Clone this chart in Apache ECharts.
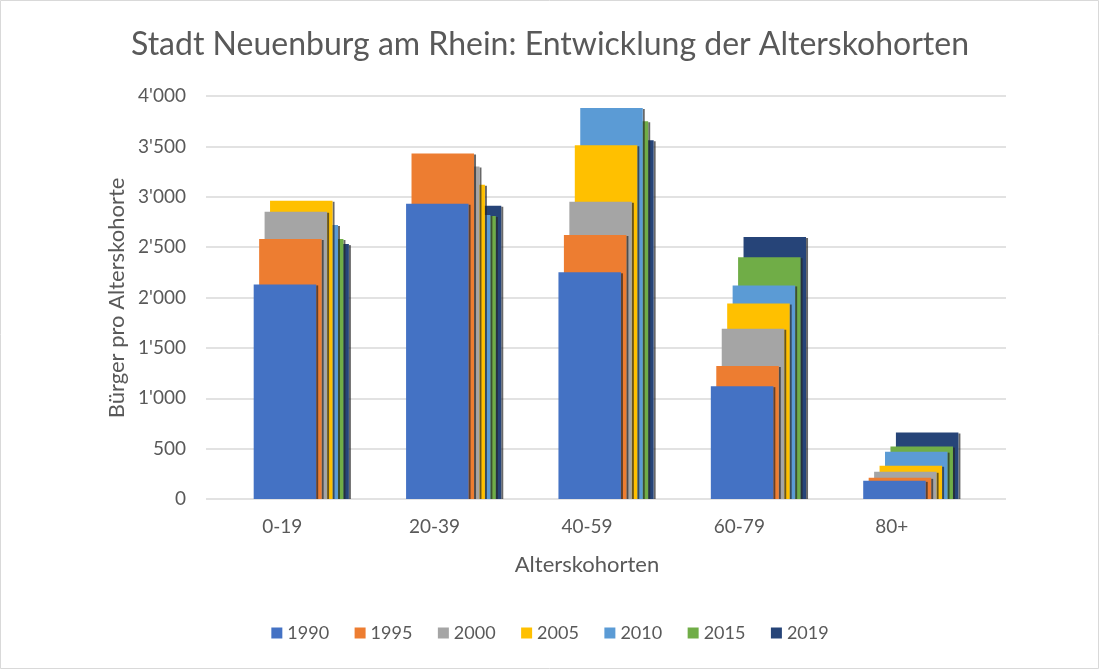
<!DOCTYPE html>
<html>
<head>
<meta charset="utf-8">
<script src="https://cdn.jsdelivr.net/npm/echarts@6/dist/echarts.min.js"></script>
<style>
html,body{margin:0;padding:0;background:#fff;}
#chart{width:1100px;height:670px;}
</style>
</head>
<body>
<div id="chart"></div>
<script>
var categories = ['0-19', '20-39', '40-59', '60-79', '80+'];
var years = ['1990', '1995', '2000', '2005', '2010', '2015', '2019'];
var v1990 = [2130, 2930, 2250, 1120, 180];
var v1995 = [2580, 3430, 2620, 1320, 210];
var v2000 = [2850, 3300, 2950, 1690, 270];
var v2005 = [2960, 3120, 3510, 1940, 330];
var v2010 = [2720, 2820, 3880, 2120, 470];
var v2015 = [2580, 2810, 3750, 2400, 520];
var v2019 = [2530, 2910, 3560, 2600, 660];
var yTicks = [0, 500, 1000, 1500, 2000, 2500, 3000, 3500, 4000];

var seriesValues = [v1990, v1995, v2000, v2005, v2010, v2015, v2019];
var colors = ['#4472C4', '#ED7D31', '#A5A5A5', '#FFC000', '#5B9BD5', '#70AD47', '#264478'];
var textColor = '#595959';
var font = 'Lato';

function fmt(v) {
  if (v >= 1000) {
    var r = String(v % 1000);
    while (r.length < 3) r = '0' + r;
    return Math.floor(v / 1000) + "'" + r;
  }
  return String(v);
}

var chart = echarts.init(document.getElementById('chart'));

var series = years.map(function (y, j) {
  var data = seriesValues[j].map(function (v, i) { return [i + 0.5, v]; });
  return {
    name: y,
    type: 'custom',
    z: 20 - j,
    itemStyle: { color: colors[j] },
    data: data,
    renderItem: function (params, api) {
      var top = api.coord([api.value(0), api.value(1)]);
      var base = api.coord([api.value(0), 0]);
      var left = top[0] - 28.5 + 5.45 * j;
      var w = 62.5;
      return {
        type: 'group',
        children: [
          {
            type: 'rect',
            shape: { x: left + w, y: top[1] + 1, width: 2, height: base[1] - top[1] - 1 },
            style: { fill: 'rgba(40,40,40,0.7)' }
          },
          {
            type: 'rect',
            shape: { x: left, y: top[1], width: w, height: base[1] - top[1] },
            style: { fill: colors[j] }
          }
        ]
      };
    }
  };
});

var option = {
  backgroundColor: '#fff',
  animation: false,
  title: {
    text: 'Stadt Neuenburg am Rhein: Entwicklung der Alterskohorten',
    left: 'center',
    top: 24,
    textStyle: { fontFamily: font, fontSize: 32, fontWeight: 'normal', color: textColor }
  },
  legend: {
    data: years,
    bottom: 23,
    left: 'center',
    icon: 'rect',
    itemWidth: 11,
    itemHeight: 11,
    itemGap: 25.5,
    textStyle: { fontFamily: font, fontSize: 18, color: textColor }
  },
  grid: { left: 206, right: 94, top: 96, bottom: 171 },
  xAxis: {
    type: 'value',
    min: 0,
    max: 5.25,
    interval: 0.5,
    axisLine: { show: false },
    axisTick: { show: false },
    splitLine: { show: false },
    axisLabel: {
      margin: 18,
      fontFamily: font,
      fontSize: 19,
      color: textColor,
      showMaxLabel: false,
      formatter: function (v) {
        var k = v - 0.5;
        if (Math.abs(k - Math.round(k)) < 1e-6 && Math.round(k) >= 0 && Math.round(k) < categories.length) {
          return categories[Math.round(k)];
        }
        return '';
      }
    }
  },
  yAxis: {
    type: 'value',
    min: yTicks[0],
    max: yTicks[yTicks.length - 1],
    interval: yTicks[1] - yTicks[0],
    axisLine: { show: false },
    axisTick: { show: false },
    splitLine: { lineStyle: { color: '#d9d9d9', width: 1.5 } },
    axisLabel: {
      margin: 20,
      fontFamily: font,
      fontSize: 19,
      color: textColor,
      formatter: function (v) { return fmt(v); }
    }
  },
  graphic: [
    {
      type: 'text',
      position: [587, 565],
      style: { text: 'Alterskohorten', fontFamily: font, fontSize: 22, fill: textColor, align: 'center', verticalAlign: 'middle' }
    },
    {
      type: 'text',
      position: [117, 298],
      rotation: Math.PI / 2,
      style: { text: 'Bürger pro Alterskohorte', fontFamily: font, fontSize: 22, fill: textColor, align: 'center', verticalAlign: 'middle' }
    },
    {
      type: 'rect',
      shape: { x: 0.5, y: 0.5, width: 1098, height: 668 },
      style: { fill: 'none', stroke: '#d9d9d9', lineWidth: 1 },
      silent: true
    }
  ],
  series: series
};

chart.setOption(option);
</script>
</body>
</html>
